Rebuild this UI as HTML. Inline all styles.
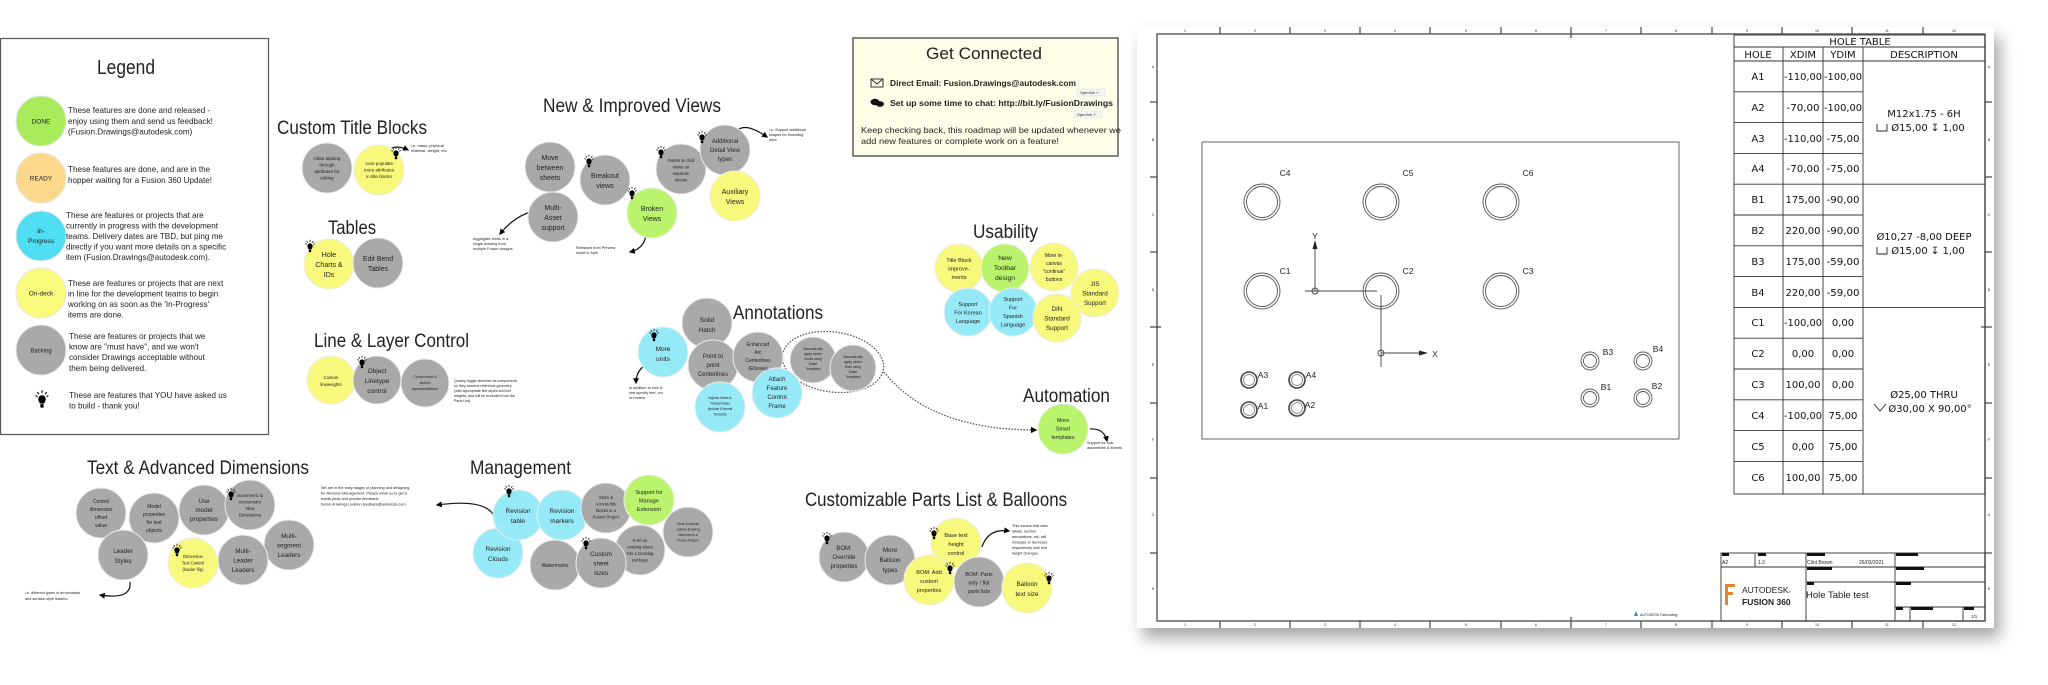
<!DOCTYPE html>
<html><head><meta charset="utf-8"><style>
html,body{margin:0;padding:0;background:#fff;width:2048px;height:685px;overflow:hidden}
svg{display:block}
text{font-family:"Liberation Sans",sans-serif;fill:#222}
.t{font-size:19px;fill:#222}
.n{text-anchor:middle;fill:#222}
.s{font-size:4px;fill:#444}
.tb{font-family:"DejaVu Sans","Liberation Sans",sans-serif;font-size:10px;fill:#111;text-anchor:middle}
</style></head><body>
<svg width="2048" height="685" viewBox="0 0 2048 685" xmlns="http://www.w3.org/2000/svg">
<defs>
<symbol id="b" viewBox="-6 -8 12 16">
<g stroke="#000" stroke-width="0.9"><line x1="0" y1="-7.5" x2="0" y2="-5"/><line x1="-4" y1="-6" x2="-2.6" y2="-4"/><line x1="4" y1="-6" x2="2.6" y2="-4"/><line x1="-5.5" y1="-3" x2="-3.8" y2="-2"/><line x1="5.5" y1="-3" x2="3.8" y2="-2"/></g>
<path d="M-3.2,0 A3.2,3.2 0 1 1 3.2,0 Q3,2.5 1.5,4 L-1.5,4 Q-3,2.5 -3.2,0Z" fill="#000"/>
<rect x="-1.4" y="4.4" width="2.8" height="3" fill="#000"/>
</symbol>
<marker id="ah" viewBox="0 0 10 10" refX="8" refY="5" markerWidth="5" markerHeight="5" orient="auto"><path d="M0,0 L10,5 L0,10z" fill="#000"/></marker>
<filter id="sh" x="-5%" y="-5%" width="115%" height="120%"><feDropShadow dx="6" dy="10" stdDeviation="8" flood-color="#000" flood-opacity="0.35"/></filter>
</defs>

<!-- LEGEND -->
<rect x="0.5" y="38.5" width="268" height="396" fill="#fff" stroke="#555" stroke-width="1.2"/>
<text x="126" y="74" font-size="20" text-anchor="middle" textLength="58" lengthAdjust="spacingAndGlyphs">Legend</text>
<g stroke="#e6e6e6" stroke-width="1">
<circle cx="41" cy="121" r="25" fill="#a8ec5c"/>
<circle cx="41" cy="178" r="25" fill="#fcd88c"/>
<circle cx="41" cy="236" r="25" fill="#50def2"/>
<circle cx="41" cy="293" r="25" fill="#f9f97c"/>
<circle cx="41" cy="350" r="25" fill="#a9a9a9"/>
</g>
<text class="n" x="41" y="123.5" font-size="6.5">DONE</text>
<text class="n" x="41" y="180.5" font-size="6.5">READY</text>
<text class="n" x="41" y="233" font-size="6.5"><tspan x="41">In-</tspan><tspan x="41" dy="10">Progress</tspan></text>
<text class="n" x="41" y="295.5" font-size="6.5">On-deck</text>
<text class="n" x="41" y="352.5" font-size="6">Backlog</text>
<use href="#b" x="35" y="388" width="14" height="22"/>
<g font-size="8.1" fill="#222">
<text x="68" y="113"><tspan x="68">These features are done and released -</tspan><tspan x="68" dy="10.8">enjoy using them and send us feedback!</tspan><tspan x="68" dy="10.8">(Fusion.Drawings@autodesk.com)</tspan></text>
<text x="68" y="172"><tspan x="68">These features are done, and are in the</tspan><tspan x="68" dy="10.8">hopper waiting for a Fusion 360 Update!</tspan></text>
<text x="66" y="218"><tspan x="66">These are features or projects that are</tspan><tspan x="66" dy="10.5">currently in progress with the development</tspan><tspan x="66" dy="10.5">teams. Delivery dates are TBD, but ping me</tspan><tspan x="66" dy="10.5">directly if you want more details on a specific</tspan><tspan x="66" dy="10.5">item (Fusion.Drawings@autodesk.com).</tspan></text>
<text x="68" y="286"><tspan x="68">These are features or projects that are next</tspan><tspan x="68" dy="10.5">in line for the development teams to begin</tspan><tspan x="68" dy="10.5">working on as soon as the 'In-Progress'</tspan><tspan x="68" dy="10.5">items are done.</tspan></text>
<text x="69" y="339"><tspan x="69">These are features or projects that we</tspan><tspan x="69" dy="10.6">know are "must have", and we won't</tspan><tspan x="69" dy="10.6">consider Drawings acceptable without</tspan><tspan x="69" dy="10.6">them being delivered.</tspan></text>
<text x="69" y="398"><tspan x="69">These are features that YOU have asked us</tspan><tspan x="69" dy="10.6">to build - thank you!</tspan></text>
</g>

<!-- TITLES -->
<text class="t" x="277" y="134" textLength="150" lengthAdjust="spacingAndGlyphs">Custom Title Blocks</text>
<text class="t" x="328" y="234" textLength="48" lengthAdjust="spacingAndGlyphs">Tables</text>
<text class="t" x="543" y="112" textLength="178" lengthAdjust="spacingAndGlyphs">New &amp; Improved Views</text>
<text class="t" x="314" y="347" textLength="155" lengthAdjust="spacingAndGlyphs">Line &amp; Layer Control</text>
<text class="t" x="733" y="319" textLength="90" lengthAdjust="spacingAndGlyphs">Annotations</text>
<text class="t" x="973" y="238" textLength="65" lengthAdjust="spacingAndGlyphs">Usability</text>
<text class="t" x="1023" y="402" textLength="87" lengthAdjust="spacingAndGlyphs">Automation</text>
<text class="t" x="87" y="474" textLength="222" lengthAdjust="spacingAndGlyphs">Text &amp; Advanced Dimensions</text>
<text class="t" x="470" y="474" textLength="101" lengthAdjust="spacingAndGlyphs">Management</text>
<text class="t" x="805" y="506" textLength="262" lengthAdjust="spacingAndGlyphs">Customizable Parts List &amp; Balloons</text>

<!-- GET CONNECTED -->
<rect x="853" y="38" width="265" height="118" fill="#fffee8" stroke="#444" stroke-width="1.3"/>
<text x="926" y="59" font-size="17" textLength="116" lengthAdjust="spacingAndGlyphs">Get Connected</text>
<rect x="871" y="79" width="12" height="8" fill="none" stroke="#222" stroke-width="0.9"/><path d="M871,79 L877,84 L883,79" fill="none" stroke="#222" stroke-width="0.9"/>
<ellipse cx="875" cy="102" rx="4.5" ry="3.2" fill="#111"/><ellipse cx="880" cy="104" rx="4" ry="2.8" fill="#111"/>
<text x="890" y="86" font-size="8.3" font-weight="bold" textLength="186" lengthAdjust="spacingAndGlyphs">Direct Email: Fusion.Drawings@autodesk.com</text>
<text x="890" y="106" font-size="8.3" font-weight="bold" textLength="223" lengthAdjust="spacingAndGlyphs">Set up some time to chat: http://bit.ly/FusionDrawings</text>
<rect x="1077" y="89" width="28" height="7" fill="#f4f4f4" stroke="#ddd" stroke-width="0.5"/><text x="1080" y="94" font-size="3.5" fill="#666">Open link ↗</text>
<rect x="1074" y="111" width="28" height="7" fill="#f4f4f4" stroke="#ddd" stroke-width="0.5"/><text x="1077" y="116" font-size="3.5" fill="#666">Open link ↗</text>
<text x="861" y="133" font-size="8.5" textLength="260" lengthAdjust="spacingAndGlyphs">Keep checking back, this roadmap will be updated whenever we</text>
<text x="861" y="144" font-size="8.5" textLength="198" lengthAdjust="spacingAndGlyphs">add new features or complete work on a feature!</text>

<!-- CONNECTORS -->
<g fill="none" stroke="#111" stroke-width="1.2">
<path d="M382,163 Q388,140 408,150" marker-end="url(#ah)"/>
<path d="M537,210 Q515,215 500,234" marker-end="url(#ah)"/>
<path d="M733,137 Q740,118 767,137" marker-end="url(#ah)"/>
<path d="M646,232 Q646,248 630,252" marker-end="url(#ah)"/>
<path d="M654,362 Q636,366 636,383" marker-end="url(#ah)"/>
<path d="M1090,429 Q1104,428 1107,441" marker-end="url(#ah)"/>
<path d="M130,582 Q132,600 100,595" marker-end="url(#ah)"/>
<path d="M495,518 Q488,498 437,505" marker-end="url(#ah)"/>
<path d="M982,547 Q988,528 1009,531" marker-end="url(#ah)"/>
</g>
<ellipse cx="833" cy="362" rx="51" ry="30" transform="rotate(8 833 362)" fill="none" stroke="#555" stroke-width="1.3" stroke-dasharray="1.5,1.5"/>
<path d="M884,372 Q930,430 1036,430" fill="none" stroke="#555" stroke-width="1.3" stroke-dasharray="1.5,1.5" marker-end="url(#ah)"/>

<!-- small notes -->
<g class="s">
<text x="411" y="147" font-size="4" fill="#444"><tspan x="411">i.e. mass, physical</tspan><tspan x="411" dy="5">material, weight, etc.</tspan></text>
<text x="473" y="240" font-size="3.8" fill="#444"><tspan x="473">Aggregate views in a</tspan><tspan x="473" dy="5">single drawing from</tspan><tspan x="473" dy="5">multiple Fusion designs</tspan></text>
<text x="769" y="131" font-size="3.8" fill="#444"><tspan x="769">i.e. Support additional</tspan><tspan x="769" dy="5">shapes for bounding</tspan><tspan x="769" dy="5">area</tspan></text>
<text x="576" y="249" font-size="3.8" fill="#444"><tspan x="576">Released from Preview</tspan><tspan x="576" dy="5">mode in April</tspan></text>
<text x="454" y="382" font-size="3.6" fill="#444"><tspan x="454">Quickly toggle sketches as components</tspan><tspan x="454" dy="5">so they become reference geometry</tspan><tspan x="454" dy="5">(with appropriate line styles and line</tspan><tspan x="454" dy="5">weights, and will be excluded from the</tspan><tspan x="454" dy="5">Parts List)</tspan></text>
<text x="629" y="389" font-size="3.8" fill="#444"><tspan x="629">In addition to inch &amp;</tspan><tspan x="629" dy="5">mm specify feet, cm</tspan><tspan x="629" dy="5">or meters</tspan></text>
<text x="1087" y="444" font-size="3.8" fill="#444"><tspan x="1087">Support for sub-</tspan><tspan x="1087" dy="5">assemblies &amp; sheets</tspan></text>
<text x="25" y="594" font-size="3.8" fill="#444"><tspan x="25">i.e. different types of arrowheads</tspan><tspan x="25" dy="6">and surface-style leaders.</tspan></text>
<text x="321" y="489" font-size="3.8" fill="#444"><tspan x="321">We are in the early stages of planning and designing</tspan><tspan x="321" dy="5.5">for Revision Management. Please email us to get a</tspan><tspan x="321" dy="5.5">sneak peak and provide feedback!</tspan><tspan x="321" dy="5.5">fusion.drawings.revision.feedback@autodesk.com</tspan></text>
<text x="1012" y="527" font-size="3.8" fill="#444"><tspan x="1012">This means that view</tspan><tspan x="1012" dy="5.5">labels, section</tspan><tspan x="1012" dy="5.5">annotations, etc. will</tspan><tspan x="1012" dy="5.5">increase or decrease</tspan><tspan x="1012" dy="5.5">respectively with text</tspan><tspan x="1012" dy="5.5">height changes.</tspan></text>
</g>

<!-- NODES -->
<g stroke="#ececec" stroke-width="1">
<circle cx="327" cy="168" r="25" fill="#a9a9a9"/>
<circle cx="379" cy="170" r="25" fill="#f8f87c"/>
<circle cx="329" cy="264" r="25" fill="#f8f87c"/>
<circle cx="378" cy="263" r="25" fill="#a9a9a9"/>
<circle cx="550" cy="167" r="25" fill="#a9a9a9"/>
<circle cx="553" cy="217" r="25" fill="#a9a9a9"/>
<circle cx="605" cy="180" r="25" fill="#a9a9a9"/>
<circle cx="681" cy="169" r="25" fill="#a9a9a9"/>
<circle cx="652" cy="213" r="25" fill="#b9f46c"/>
<circle cx="725" cy="150" r="25" fill="#a9a9a9"/>
<circle cx="735" cy="196" r="25" fill="#f8f87c"/>
<circle cx="959" cy="268" r="24" fill="#f8f87c"/>
<circle cx="1005" cy="268" r="24" fill="#b9f46c"/>
<circle cx="1054" cy="267" r="24" fill="#f8f87c"/>
<circle cx="1095" cy="293" r="24" fill="#f8f87c"/>
<circle cx="968" cy="312" r="24" fill="#96eaf8"/>
<circle cx="1013" cy="312" r="24" fill="#96eaf8"/>
<circle cx="1057" cy="318" r="24" fill="#f8f87c"/>
<circle cx="331" cy="380" r="24" fill="#f8f87c"/>
<circle cx="377" cy="380" r="24" fill="#a9a9a9"/>
<circle cx="425" cy="383" r="24" fill="#a9a9a9"/>
<circle cx="707" cy="323" r="25" fill="#a9a9a9"/>
<circle cx="663" cy="352" r="25" fill="#96eaf8"/>
<circle cx="713" cy="365" r="25" fill="#a9a9a9"/>
<circle cx="758" cy="357" r="25" fill="#a9a9a9"/>
<circle cx="720" cy="407" r="25" fill="#96eaf8"/>
<circle cx="777" cy="393" r="25" fill="#96eaf8"/>
<circle cx="813" cy="360" r="23" fill="#a9a9a9"/>
<circle cx="853" cy="368" r="23" fill="#a9a9a9"/>
<circle cx="1063" cy="429" r="25" fill="#b9f46c"/>
<circle cx="101" cy="513" r="25" fill="#a9a9a9"/>
<circle cx="154" cy="518" r="25" fill="#a9a9a9"/>
<circle cx="204" cy="510" r="25" fill="#a9a9a9"/>
<circle cx="250" cy="505" r="25" fill="#a9a9a9"/>
<circle cx="123" cy="555" r="25" fill="#a9a9a9"/>
<circle cx="193" cy="563" r="25" fill="#f8f87c"/>
<circle cx="289" cy="545" r="25" fill="#a9a9a9"/>
<circle cx="243" cy="560" r="25" fill="#a9a9a9"/>
<circle cx="498" cy="553" r="25" fill="#96eaf8"/>
<circle cx="518" cy="515" r="25" fill="#96eaf8"/>
<circle cx="562" cy="515" r="25" fill="#96eaf8"/>
<circle cx="606" cy="508" r="25" fill="#a9a9a9"/>
<circle cx="688" cy="532" r="25" fill="#a9a9a9"/>
<circle cx="649" cy="500" r="25" fill="#b9f46c"/>
<circle cx="555" cy="565" r="25" fill="#a9a9a9"/>
<circle cx="640" cy="550" r="25" fill="#a9a9a9"/>
<circle cx="601" cy="563" r="25" fill="#a9a9a9"/>
<circle cx="844" cy="557" r="25" fill="#a9a9a9"/>
<circle cx="890" cy="560" r="25" fill="#a9a9a9"/>
<circle cx="956" cy="543" r="25" fill="#f8f87c"/>
<circle cx="929" cy="580" r="25" fill="#f8f87c"/>
<circle cx="979" cy="582" r="25" fill="#a9a9a9"/>
<circle cx="1027" cy="588" r="25" fill="#f8f87c"/>
</g>

<!-- node labels -->
<g class="n">
<text class="n" font-size="4.5" x="327" y="160"><tspan x="327">Allow tabbing</tspan><tspan x="327" dy="6.5">through</tspan><tspan x="327" dy="6.5">attributes for</tspan><tspan x="327" dy="6.5">editing</tspan></text>
<text class="n" font-size="4.5" x="379" y="165"><tspan x="379">Auto-populate</tspan><tspan x="379" dy="6.5">more attributes</tspan><tspan x="379" dy="6.5">in title blocks</tspan></text>
<text class="n" font-size="7" x="329" y="257"><tspan x="329">Hole</tspan><tspan x="329" dy="10">Charts &amp;</tspan><tspan x="329" dy="10">IDs</tspan></text>
<text class="n" font-size="7" x="378" y="261"><tspan x="378">Edit Bend</tspan><tspan x="378" dy="10">Tables</tspan></text>
<text class="n" font-size="7" x="550" y="160"><tspan x="550">Move</tspan><tspan x="550" dy="10">between</tspan><tspan x="550" dy="10">sheets</tspan></text>
<text class="n" font-size="7" x="553" y="210"><tspan x="553">Multi-</tspan><tspan x="553" dy="10">Asset</tspan><tspan x="553" dy="10">support</tspan></text>
<text class="n" font-size="7" x="605" y="178"><tspan x="605">Breakout</tspan><tspan x="605" dy="10">views</tspan></text>
<text class="n" font-size="7" x="652" y="211"><tspan x="652">Broken</tspan><tspan x="652" dy="10">Views</tspan></text>
<text class="n" font-size="4.3" x="681" y="162"><tspan x="681">Parent &amp; child</tspan><tspan x="681" dy="6.5">views on</tspan><tspan x="681" dy="6.5">separate</tspan><tspan x="681" dy="6.5">sheets</tspan></text>
<text class="n" font-size="6" x="725" y="143"><tspan x="725">Additional</tspan><tspan x="725" dy="9">Detail View</tspan><tspan x="725" dy="9">types</tspan></text>
<text class="n" font-size="7" x="735" y="194"><tspan x="735">Auxiliary</tspan><tspan x="735" dy="10">Views</tspan></text>
<text class="n" font-size="5.5" x="959" y="262"><tspan x="959">Title Block</tspan><tspan x="959" dy="8.5">improve-</tspan><tspan x="959" dy="8.5">ments</tspan></text>
<text class="n" font-size="6.8" x="1005" y="260"><tspan x="1005">New</tspan><tspan x="1005" dy="10">Toolbar</tspan><tspan x="1005" dy="10">design</tspan></text>
<text class="n" font-size="5" x="1054" y="257"><tspan x="1054">More in-</tspan><tspan x="1054" dy="8">canvas</tspan><tspan x="1054" dy="8">"continue"</tspan><tspan x="1054" dy="8">buttons</tspan></text>
<text class="n" font-size="6.3" x="1095" y="286"><tspan x="1095">JIS</tspan><tspan x="1095" dy="9.5">Standard</tspan><tspan x="1095" dy="9.5">Support</tspan></text>
<text class="n" font-size="5.5" x="968" y="306"><tspan x="968">Support</tspan><tspan x="968" dy="8.5">For Korean</tspan><tspan x="968" dy="8.5">Language</tspan></text>
<text class="n" font-size="5.5" x="1013" y="301"><tspan x="1013">Support</tspan><tspan x="1013" dy="8.5">For</tspan><tspan x="1013" dy="8.5">Spanish</tspan><tspan x="1013" dy="8.5">Language</tspan></text>
<text class="n" font-size="6.3" x="1057" y="311"><tspan x="1057">DIN</tspan><tspan x="1057" dy="9.5">Standard</tspan><tspan x="1057" dy="9.5">Support</tspan></text>
<text class="n" font-size="4.3" x="331" y="379"><tspan x="331">Custom</tspan><tspan x="331" dy="7">lineweights</tspan></text>
<text class="n" font-size="6.5" x="377" y="373"><tspan x="377">Object</tspan><tspan x="377" dy="10">Linetype</tspan><tspan x="377" dy="10">control</tspan></text>
<text class="n" font-size="3.8" x="425" y="378"><tspan x="425">Component &amp;</tspan><tspan x="425" dy="6">sketch</tspan><tspan x="425" dy="6">representations</tspan></text>
<text class="n" font-size="6.5" x="707" y="322"><tspan x="707">Solid</tspan><tspan x="707" dy="10">Hatch</tspan></text>
<text class="n" font-size="6.5" x="663" y="351"><tspan x="663">More</tspan><tspan x="663" dy="10">units</tspan></text>
<text class="n" font-size="6" x="713" y="358"><tspan x="713">Point to</tspan><tspan x="713" dy="9">point</tspan><tspan x="713" dy="9">Centerlines</tspan></text>
<text class="n" font-size="5" x="758" y="346"><tspan x="758">Enhanced</tspan><tspan x="758" dy="8">Arc</tspan><tspan x="758" dy="8">Centerlines</tspan><tspan x="758" dy="8">(Elbows)</tspan></text>
<text class="n" font-size="6" x="777" y="381"><tspan x="777">Attach</tspan><tspan x="777" dy="9">Feature</tspan><tspan x="777" dy="9">Control</tspan><tspan x="777" dy="9">Frame</tspan></text>
<text class="n" font-size="3.3" x="720" y="399"><tspan x="720">Ingress Holes &amp;</tspan><tspan x="720" dy="5.5">Thread Notes</tspan><tspan x="720" dy="5.5">(include External</tspan><tspan x="720" dy="5.5">Threads)</tspan></text>
<text class="n" font-size="3.3" x="813" y="350"><tspan x="813">Automatically</tspan><tspan x="813" dy="5">apply center</tspan><tspan x="813" dy="5">marks using</tspan><tspan x="813" dy="5">Smart</tspan><tspan x="813" dy="5">Templates</tspan></text>
<text class="n" font-size="3.3" x="853" y="358"><tspan x="853">Automatically</tspan><tspan x="853" dy="5">apply center</tspan><tspan x="853" dy="5">lines using</tspan><tspan x="853" dy="5">Smart</tspan><tspan x="853" dy="5">Templates</tspan></text>
<text class="n" font-size="5.3" x="1063" y="422"><tspan x="1063">More</tspan><tspan x="1063" dy="8.5">Smart</tspan><tspan x="1063" dy="8.5">templates</tspan></text>
<text class="n" font-size="5" x="101" y="503"><tspan x="101">Control</tspan><tspan x="101" dy="8">dimension</tspan><tspan x="101" dy="8">offset</tspan><tspan x="101" dy="8">value</tspan></text>
<text class="n" font-size="5" x="154" y="508"><tspan x="154">Model</tspan><tspan x="154" dy="8">properties</tspan><tspan x="154" dy="8">for text</tspan><tspan x="154" dy="8">objects</tspan></text>
<text class="n" font-size="6.3" x="204" y="503"><tspan x="204">Use</tspan><tspan x="204" dy="9">model</tspan><tspan x="204" dy="9">properties</tspan></text>
<text class="n" font-size="4.2" x="250" y="497"><tspan x="250">Isonometric &amp;</tspan><tspan x="250" dy="6.5">Axonometric</tspan><tspan x="250" dy="6.5">View</tspan><tspan x="250" dy="6.5">Dimensions</tspan></text>
<text class="n" font-size="6.3" x="123" y="553"><tspan x="123">Leader</tspan><tspan x="123" dy="10">Styles</tspan></text>
<text class="n" font-size="4.2" x="193" y="558"><tspan x="193">Dimension</tspan><tspan x="193" dy="6.5">Text Control</tspan><tspan x="193" dy="6.5">(leader flip)</tspan></text>
<text class="n" font-size="6.3" x="243" y="553"><tspan x="243">Multi-</tspan><tspan x="243" dy="9.5">Leader</tspan><tspan x="243" dy="9.5">Leaders</tspan></text>
<text class="n" font-size="6.3" x="289" y="538"><tspan x="289">Multi-</tspan><tspan x="289" dy="9.5">segment</tspan><tspan x="289" dy="9.5">Leaders</tspan></text>
<text class="n" font-size="6.5" x="518" y="513"><tspan x="518">Revision</tspan><tspan x="518" dy="10">table</tspan></text>
<text class="n" font-size="6.5" x="562" y="513"><tspan x="562">Revision</tspan><tspan x="562" dy="10">markers</tspan></text>
<text class="n" font-size="4.2" x="606" y="499"><tspan x="606">Store &amp;</tspan><tspan x="606" dy="6.5">Access title</tspan><tspan x="606" dy="6.5">blocks in a</tspan><tspan x="606" dy="6.5">Fusion Project</tspan></text>
<text class="n" font-size="5.5" x="649" y="494"><tspan x="649">Support for</tspan><tspan x="649" dy="8.5">Manage</tspan><tspan x="649" dy="8.5">Extension</tspan></text>
<text class="n" font-size="6.5" x="498" y="551"><tspan x="498">Revision</tspan><tspan x="498" dy="10">Clouds</tspan></text>
<text class="n" font-size="5" x="555" y="567">Watermarks</text>
<text class="n" font-size="6.3" x="601" y="556"><tspan x="601">Custom</tspan><tspan x="601" dy="9.5">sheet</tspan><tspan x="601" dy="9.5">sizes</tspan></text>
<text class="n" font-size="4.2" x="640" y="542"><tspan x="640">X-ref an</tspan><tspan x="640" dy="6.5">existing sheet</tspan><tspan x="640" dy="6.5">into a Drawing</tspan><tspan x="640" dy="6.5">package</tspan></text>
<text class="n" font-size="3.3" x="688" y="525"><tspan x="688">Store &amp; Access</tspan><tspan x="688" dy="5.5">custom Drawing</tspan><tspan x="688" dy="5.5">sketches in a</tspan><tspan x="688" dy="5.5">Fusion Project</tspan></text>
<text class="n" font-size="6" x="844" y="550"><tspan x="844">BOM:</tspan><tspan x="844" dy="9">Override</tspan><tspan x="844" dy="9">properties</tspan></text>
<text class="n" font-size="6.3" x="890" y="552"><tspan x="890">More</tspan><tspan x="890" dy="10">Balloon</tspan><tspan x="890" dy="10">types</tspan></text>
<text class="n" font-size="5.6" x="956" y="537"><tspan x="956">Base text</tspan><tspan x="956" dy="9">height</tspan><tspan x="956" dy="9">control</tspan></text>
<text class="n" font-size="5.6" x="929" y="574"><tspan x="929">BOM: Add</tspan><tspan x="929" dy="9">custom</tspan><tspan x="929" dy="9">properties</tspan></text>
<text class="n" font-size="5.3" x="979" y="576"><tspan x="979">BOM: Parts</tspan><tspan x="979" dy="8.5">only / flat</tspan><tspan x="979" dy="8.5">parts lists</tspan></text>
<text class="n" font-size="6.3" x="1027" y="586"><tspan x="1027">Balloon</tspan><tspan x="1027" dy="10">text size</tspan></text>
</g>

<!-- bulbs -->
<g>
<use href="#b" x="391" y="146" width="10" height="14"/>
<use href="#b" x="305" y="239" width="10" height="14"/>
<use href="#b" x="584" y="154" width="10" height="14"/>
<use href="#b" x="627" y="186" width="10" height="14"/>
<use href="#b" x="656" y="145" width="10" height="14"/>
<use href="#b" x="697" y="130" width="10" height="14"/>
<use href="#b" x="357" y="355" width="10" height="14"/>
<use href="#b" x="649" y="328" width="10" height="14"/>
<use href="#b" x="226" y="487" width="10" height="14"/>
<use href="#b" x="172" y="543" width="10" height="14"/>
<use href="#b" x="504" y="484" width="10" height="14"/>
<use href="#b" x="581" y="536" width="10" height="14"/>
<use href="#b" x="822" y="531" width="10" height="14"/>
<use href="#b" x="929" y="526" width="10" height="14"/>
<use href="#b" x="945" y="561" width="10" height="14"/>
<use href="#b" x="1044" y="571" width="10" height="14"/>
</g>

<!-- DRAWING SHEET -->
<rect x="1137" y="27" width="857" height="601" fill="#fff" filter="url(#sh)"/>
<rect x="1157" y="34" width="828" height="587" fill="none" stroke="#555" stroke-width="1.4"/>
<g stroke="#444" stroke-width="1.2">
<line x1="1220" y1="27" x2="1220" y2="34"/><line x1="1290" y1="27" x2="1290" y2="34"/><line x1="1360" y1="27" x2="1360" y2="34"/><line x1="1430" y1="27" x2="1430" y2="34"/><line x1="1501" y1="27" x2="1501" y2="34"/><line x1="1571" y1="27" x2="1571" y2="38"/><line x1="1641" y1="27" x2="1641" y2="34"/><line x1="1712" y1="27" x2="1712" y2="34"/><line x1="1782" y1="27" x2="1782" y2="34"/><line x1="1852" y1="27" x2="1852" y2="34"/><line x1="1923" y1="27" x2="1923" y2="34"/>
<line x1="1220" y1="621" x2="1220" y2="628"/><line x1="1290" y1="621" x2="1290" y2="628"/><line x1="1360" y1="621" x2="1360" y2="628"/><line x1="1430" y1="621" x2="1430" y2="628"/><line x1="1501" y1="621" x2="1501" y2="628"/><line x1="1571" y1="617" x2="1571" y2="628"/><line x1="1641" y1="621" x2="1641" y2="628"/><line x1="1712" y1="621" x2="1712" y2="628"/><line x1="1782" y1="621" x2="1782" y2="628"/><line x1="1852" y1="621" x2="1852" y2="628"/><line x1="1923" y1="621" x2="1923" y2="628"/>
<line x1="1150" y1="102" x2="1157" y2="102"/><line x1="1150" y1="177" x2="1157" y2="177"/><line x1="1150" y1="252" x2="1157" y2="252"/><line x1="1150" y1="327" x2="1161" y2="327"/><line x1="1150" y1="403" x2="1157" y2="403"/><line x1="1150" y1="478" x2="1157" y2="478"/><line x1="1150" y1="553" x2="1157" y2="553"/>
<line x1="1985" y1="102" x2="1992" y2="102"/><line x1="1985" y1="177" x2="1992" y2="177"/><line x1="1985" y1="252" x2="1992" y2="252"/><line x1="1981" y1="327" x2="1992" y2="327"/><line x1="1985" y1="403" x2="1992" y2="403"/><line x1="1985" y1="478" x2="1992" y2="478"/><line x1="1985" y1="553" x2="1992" y2="553"/>
</g>
<g font-size="3.5" fill="#444" text-anchor="middle">
<text x="1185" y="32">1</text><text x="1255" y="32">2</text><text x="1325" y="32">3</text><text x="1395" y="32">4</text><text x="1466" y="32">5</text><text x="1536" y="32">6</text><text x="1606" y="32">7</text><text x="1676" y="32">8</text><text x="1747" y="32">9</text><text x="1817" y="32">10</text><text x="1887" y="32">11</text><text x="1954" y="32">12</text>
<text x="1185" y="626">1</text><text x="1255" y="626">2</text><text x="1325" y="626">3</text><text x="1395" y="626">4</text><text x="1466" y="626">5</text><text x="1536" y="626">6</text><text x="1606" y="626">7</text><text x="1676" y="626">8</text><text x="1747" y="626">9</text><text x="1817" y="626">10</text><text x="1887" y="626">11</text><text x="1954" y="626">12</text>
<text x="1153" y="68">A</text><text x="1153" y="141">B</text><text x="1153" y="216">C</text><text x="1153" y="291">D</text><text x="1153" y="366">E</text><text x="1153" y="441">F</text><text x="1153" y="516">G</text><text x="1153" y="590">H</text>
<text x="1989" y="68">A</text><text x="1989" y="141">B</text><text x="1989" y="216">C</text><text x="1989" y="291">D</text><text x="1989" y="366">E</text><text x="1989" y="441">F</text><text x="1989" y="516">G</text><text x="1989" y="590">H</text>
</g>

<!-- part -->
<rect x="1202" y="142" width="477" height="297" fill="none" stroke="#666" stroke-width="1"/>
<g fill="none" stroke="#555" stroke-width="0.9">
<circle cx="1262" cy="202" r="18"/><circle cx="1262" cy="202" r="15.5"/>
<circle cx="1381" cy="202" r="18"/><circle cx="1381" cy="202" r="15.5"/>
<circle cx="1501" cy="202" r="18"/><circle cx="1501" cy="202" r="15.5"/>
<circle cx="1262" cy="291" r="18"/><circle cx="1262" cy="291" r="15.5"/>
<circle cx="1381" cy="291" r="18"/><circle cx="1381" cy="291" r="15.5"/>
<circle cx="1501" cy="291" r="18"/><circle cx="1501" cy="291" r="15.5"/>
<circle cx="1590" cy="361" r="9"/><circle cx="1590" cy="361" r="6.5"/>
<circle cx="1643" cy="361" r="9"/><circle cx="1643" cy="361" r="6.5"/>
<circle cx="1590" cy="398" r="9"/><circle cx="1590" cy="398" r="6.5"/>
<circle cx="1643" cy="398" r="9"/><circle cx="1643" cy="398" r="6.5"/>
</g>
<g fill="none" stroke="#444" stroke-width="1.6">
<circle cx="1249" cy="380" r="8"/><circle cx="1297" cy="380" r="8"/><circle cx="1249" cy="410" r="8"/><circle cx="1297" cy="408" r="8"/>
</g>
<g fill="none" stroke="#777" stroke-width="0.8">
<circle cx="1249" cy="380" r="5.5"/><circle cx="1297" cy="380" r="5.5"/><circle cx="1249" cy="410" r="5.5"/><circle cx="1297" cy="408" r="5.5"/>
</g>
<g stroke="#444" stroke-width="0.9" fill="none">
<line x1="1315" y1="291" x2="1315" y2="246"/><line x1="1305" y1="291" x2="1377" y2="291"/><circle cx="1315" cy="291" r="3"/>
<line x1="1381" y1="295" x2="1381" y2="367"/><line x1="1381" y1="353" x2="1422" y2="353"/><circle cx="1381" cy="353" r="3"/>
</g>
<path d="M1315,240 L1312.5,249 L1317.5,249Z" fill="#222"/>
<path d="M1428,353 L1419,350.5 L1419,355.5Z" fill="#222"/>
<g font-size="8.5" fill="#222" text-anchor="middle">
<text x="1285" y="176">C4</text><text x="1408" y="176">C5</text><text x="1528" y="176">C6</text>
<text x="1285" y="274">C1</text><text x="1408" y="274">C2</text><text x="1528" y="274">C3</text>
<text x="1315" y="239">Y</text><text x="1435" y="357">X</text>
<text x="1263" y="378">A3</text><text x="1311" y="378">A4</text><text x="1263" y="409">A1</text><text x="1310" y="408">A2</text>
<text x="1608" y="355">B3</text><text x="1658" y="352">B4</text><text x="1606" y="390">B1</text><text x="1657" y="389">B2</text>
</g>

<!-- hole table -->
<g stroke="#333" stroke-width="0.9" fill="none">
<rect x="1734" y="35" width="251" height="459"/>
<line x1="1734" y1="47" x2="1985" y2="47"/>
<line x1="1734" y1="61" x2="1985" y2="61"/>
<line x1="1783" y1="47" x2="1783" y2="494"/><line x1="1823" y1="47" x2="1823" y2="494"/><line x1="1863" y1="47" x2="1863" y2="494"/>
<line x1="1734" y1="91.8" x2="1863" y2="91.8"/><line x1="1734" y1="122.6" x2="1863" y2="122.6"/><line x1="1734" y1="153.4" x2="1863" y2="153.4"/>
<line x1="1734" y1="184.2" x2="1985" y2="184.2"/>
<line x1="1734" y1="215" x2="1863" y2="215"/><line x1="1734" y1="245.8" x2="1863" y2="245.8"/><line x1="1734" y1="276.6" x2="1863" y2="276.6"/>
<line x1="1734" y1="307.4" x2="1985" y2="307.4"/>
<line x1="1734" y1="338.2" x2="1863" y2="338.2"/><line x1="1734" y1="369" x2="1863" y2="369"/><line x1="1734" y1="399.8" x2="1863" y2="399.8"/><line x1="1734" y1="430.6" x2="1863" y2="430.6"/><line x1="1734" y1="461.4" x2="1863" y2="461.4"/>
</g>
<text class="tb" x="1860" y="45">HOLE TABLE</text>
<text class="tb" x="1758" y="58">HOLE</text><text class="tb" x="1803" y="58">XDIM</text><text class="tb" x="1843" y="58">YDIM</text><text class="tb" x="1924" y="58">DESCRIPTION</text>
<g>
<text class="tb" x="1758" y="80">A1</text><text class="tb" x="1803" y="80" textLength="38" lengthAdjust="spacingAndGlyphs">-110,00</text><text class="tb" x="1843" y="80" textLength="38" lengthAdjust="spacingAndGlyphs">-100,00</text>
<text class="tb" x="1758" y="111">A2</text><text class="tb" x="1803" y="111" textLength="33" lengthAdjust="spacingAndGlyphs">-70,00</text><text class="tb" x="1843" y="111" textLength="38" lengthAdjust="spacingAndGlyphs">-100,00</text>
<text class="tb" x="1758" y="142">A3</text><text class="tb" x="1803" y="142" textLength="38" lengthAdjust="spacingAndGlyphs">-110,00</text><text class="tb" x="1843" y="142" textLength="33" lengthAdjust="spacingAndGlyphs">-75,00</text>
<text class="tb" x="1758" y="172">A4</text><text class="tb" x="1803" y="172" textLength="33" lengthAdjust="spacingAndGlyphs">-70,00</text><text class="tb" x="1843" y="172" textLength="33" lengthAdjust="spacingAndGlyphs">-75,00</text>
<text class="tb" x="1758" y="203">B1</text><text class="tb" x="1803" y="203" textLength="35" lengthAdjust="spacingAndGlyphs">175,00</text><text class="tb" x="1843" y="203" textLength="33" lengthAdjust="spacingAndGlyphs">-90,00</text>
<text class="tb" x="1758" y="234">B2</text><text class="tb" x="1803" y="234" textLength="35" lengthAdjust="spacingAndGlyphs">220,00</text><text class="tb" x="1843" y="234" textLength="33" lengthAdjust="spacingAndGlyphs">-90,00</text>
<text class="tb" x="1758" y="265">B3</text><text class="tb" x="1803" y="265" textLength="35" lengthAdjust="spacingAndGlyphs">175,00</text><text class="tb" x="1843" y="265" textLength="33" lengthAdjust="spacingAndGlyphs">-59,00</text>
<text class="tb" x="1758" y="296">B4</text><text class="tb" x="1803" y="296" textLength="35" lengthAdjust="spacingAndGlyphs">220,00</text><text class="tb" x="1843" y="296" textLength="33" lengthAdjust="spacingAndGlyphs">-59,00</text>
<text class="tb" x="1758" y="326">C1</text><text class="tb" x="1803" y="326" textLength="38" lengthAdjust="spacingAndGlyphs">-100,00</text><text class="tb" x="1843" y="326">0,00</text>
<text class="tb" x="1758" y="357">C2</text><text class="tb" x="1803" y="357">0,00</text><text class="tb" x="1843" y="357">0,00</text>
<text class="tb" x="1758" y="388">C3</text><text class="tb" x="1803" y="388" textLength="35" lengthAdjust="spacingAndGlyphs">100,00</text><text class="tb" x="1843" y="388">0,00</text>
<text class="tb" x="1758" y="419">C4</text><text class="tb" x="1803" y="419" textLength="38" lengthAdjust="spacingAndGlyphs">-100,00</text><text class="tb" x="1843" y="419" textLength="29" lengthAdjust="spacingAndGlyphs">75,00</text>
<text class="tb" x="1758" y="450">C5</text><text class="tb" x="1803" y="450">0,00</text><text class="tb" x="1843" y="450" textLength="29" lengthAdjust="spacingAndGlyphs">75,00</text>
<text class="tb" x="1758" y="481">C6</text><text class="tb" x="1803" y="481" textLength="35" lengthAdjust="spacingAndGlyphs">100,00</text><text class="tb" x="1843" y="481" textLength="29" lengthAdjust="spacingAndGlyphs">75,00</text>
<text class="tb" x="1924" y="117">M12x1.75 - 6H</text>
<text class="tb" x="1928" y="131">Ø15,00 ↧ 1,00</text>
<text class="tb" x="1924" y="240">Ø10,27 -8,00 DEEP</text>
<text class="tb" x="1928" y="254">Ø15,00 ↧ 1,00</text>
<text class="tb" x="1924" y="398">Ø25,00 THRU</text>
<text class="tb" x="1930" y="412">Ø30,00 X 90,00°</text>
</g>
<g fill="none" stroke="#222" stroke-width="0.9">
<path d="M1877,124 L1877,131 L1887,131 L1887,124"/>
<path d="M1877,247 L1877,254 L1887,254 L1887,247"/>
<path d="M1874,404 L1880,411 L1886,404"/>
</g>

<!-- title block -->
<g stroke="#333" stroke-width="0.9" fill="none">
<rect x="1721" y="553" width="264" height="68"/>
<line x1="1721" y1="567" x2="1985" y2="567"/>
<line x1="1806" y1="582" x2="1985" y2="582"/>
<line x1="1895" y1="607" x2="1985" y2="607"/>
<line x1="1755" y1="553" x2="1755" y2="567"/>
<line x1="1806" y1="553" x2="1806" y2="621"/>
<line x1="1895" y1="553" x2="1895" y2="621"/>
<line x1="1910" y1="607" x2="1910" y2="621"/>
<line x1="1963" y1="607" x2="1963" y2="621"/>
</g>
<g fill="#111">
<rect x="1722" y="553" width="7" height="3"/><rect x="1758" y="553" width="8" height="3"/><rect x="1807" y="553" width="18" height="3"/><rect x="1896" y="553" width="22" height="3"/>
<rect x="1807" y="567" width="25" height="3"/><rect x="1896" y="567" width="28" height="3"/><rect x="1807" y="582" width="7" height="3"/><rect x="1896" y="582" width="15" height="3"/>
<rect x="1896" y="607" width="7" height="3"/><rect x="1911" y="607" width="22" height="3"/><rect x="1964" y="607" width="10" height="3"/>
</g>
<g fill="#222">
<text x="1722" y="564" font-size="5">A2</text>
<text x="1758" y="564" font-size="5">1:2</text>
<text x="1807" y="564" font-size="5">Clint Brown</text>
<text x="1859" y="564" font-size="5">26/03/2021</text>
<text x="1806" y="598" font-size="9.5">Hole Table test</text>
<text x="1971" y="618" font-size="4.5">1/1</text>
<text x="1742" y="593" font-size="8.5" fill="#666">AUTODESK<tspan font-size="3">®</tspan></text>
<text x="1742" y="605" font-size="8.5" font-weight="bold" fill="#555">FUSION 360</text>
<text x="1640" y="616" font-size="3.5" fill="#446">AUTODESK Fabricating</text>
</g>
<path d="M1725,584 L1735,584 L1735,587 L1728,587 L1728,592 L1733,592 L1733,595 L1728,595 L1728,605 L1725,605Z" fill="#e8862e"/>
<path d="M1636,611 L1638,616 L1634,616Z" fill="#2a8fd0"/>
</svg>
</body></html>
